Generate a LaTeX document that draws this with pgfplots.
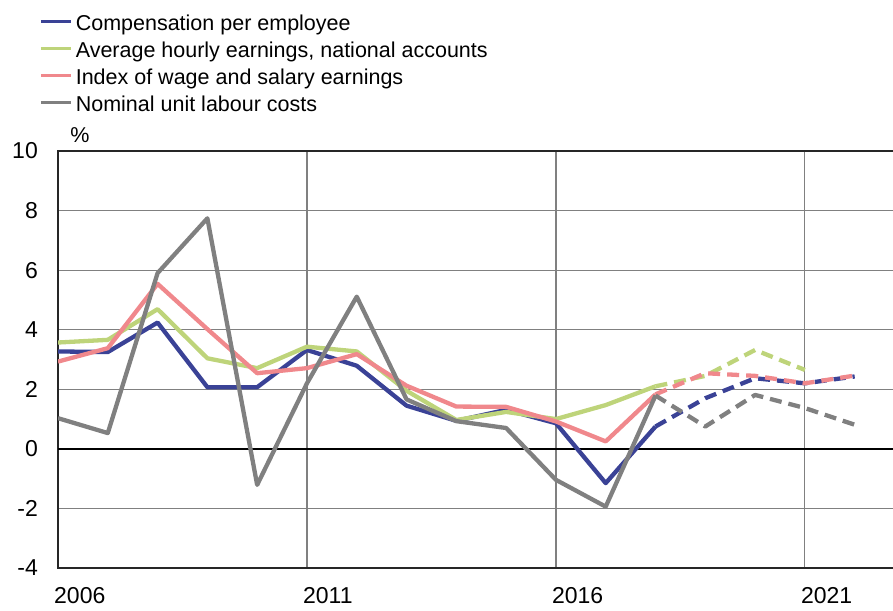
\documentclass[border=0pt]{standalone}
\usepackage{fontspec}
\setmainfont{Liberation Sans}
\usepackage{pgfplots}
\pgfplotsset{compat=1.18}
\definecolor{cblue}{RGB}{58,66,150}
\definecolor{cgreen}{RGB}{190,212,122}
\definecolor{cpink}{RGB}{240,136,140}
\definecolor{cgray}{RGB}{128,128,128}
\begin{document}
\begin{tikzpicture}[font=\fontsize{21.5}{25}\selectfont]
\useasboundingbox (0,0) rectangle (893pt,610pt);
\begin{axis}[
  at={(58pt,42pt)}, anchor=south west,
  width=837pt, height=417pt, scale only axis,
  xmin=2006, xmax=2022.81, ymin=-4, ymax=10,
  xtick={2006,2011,2016,2021},
  xticklabels={2006,2011,2016,2021},
  ytick={-4,-2,0,2,4,6,8,10},
  yticklabels={-4,-2,0,2,4,6,8,10},
  major tick length=0pt,
  grid=major,
  grid style={cgray, line width=1.2pt},
  axis line style={black!85, line width=1.4pt},
  extra y ticks={0}, extra y tick labels={},
  extra y tick style={grid style={black, line width=1.4pt}},
  tick label style={font=\fontsize{23}{26}\selectfont},
  xticklabel style={anchor=north west, inner sep=0pt, xshift=-4pt, yshift=-19pt},
  yticklabel style={anchor=east, inner sep=0pt, xshift=-20pt},
  legend style={at={(axis description cs:-0.0227,1.3261)}, anchor=north west,
    draw=none, fill=none, inner sep=0pt, outer sep=0pt,
    row sep=7pt, column sep=3pt,
    nodes={inner sep=0pt, text height=15.5pt, text depth=4.5pt, anchor=base west}},
  legend cell align=left,
  legend image code/.code={\draw[#1, line width=3.8pt] (0pt,9pt) -- (30pt,9pt);},
  every axis plot/.append style={line width=4.3pt, line join=round},
]
% Compensation per employee
\addplot[cblue] coordinates {(2006,3.27) (2007,3.25) (2008,4.24) (2009,2.07) (2010,2.07) (2011,3.32) (2012,2.79) (2013,1.45) (2014,0.94) (2015,1.31) (2016,0.86) (2017,-1.15) (2018,0.75)};
\addlegendentry{Compensation per employee}
% Average hourly earnings
\addplot[cgreen] coordinates {(2006,3.57) (2007,3.66) (2008,4.69) (2009,3.04) (2010,2.71) (2011,3.43) (2012,3.27) (2013,1.95) (2014,0.97) (2015,1.24) (2016,1.0) (2017,1.47) (2018,2.1)};
\addlegendentry{Average hourly earnings, national accounts}
% Index of wage and salary earnings
\addplot[cpink] coordinates {(2006,2.93) (2007,3.38) (2008,5.54) (2009,4.02) (2010,2.54) (2011,2.71) (2012,3.18) (2013,2.12) (2014,1.42) (2015,1.41) (2016,0.92) (2017,0.25) (2018,1.83)};
\addlegendentry{Index of wage and salary earnings}
% Nominal unit labour costs
\addplot[cgray] coordinates {(2006,1.03) (2007,0.53) (2008,5.9) (2009,7.74) (2010,-1.21) (2011,2.2) (2012,5.11) (2013,1.66) (2014,0.93) (2015,0.7) (2016,-1.04) (2017,-1.94) (2018,1.79)};
\addlegendentry{Nominal unit labour costs}
% forecasts (dashed)
\addplot[cblue, dash pattern=on 12pt off 7pt, forget plot] coordinates {(2018,0.75) (2019,1.7) (2020,2.37) (2021,2.2) (2022,2.43)};
\addplot[cgreen, dash pattern=on 12pt off 7pt, forget plot] coordinates {(2018,2.1) (2019,2.45) (2020,3.32) (2021,2.65)};
\addplot[cpink, dash pattern=on 12pt off 7pt, forget plot] coordinates {(2018,1.83) (2019,2.54) (2020,2.45) (2021,2.2) (2022,2.46)};
\addplot[cgray, dash pattern=on 12pt off 7pt, forget plot] coordinates {(2018,1.79) (2019,0.75) (2020,1.81) (2021,1.37) (2022,0.81)};
\end{axis}
\node at (80pt,475pt) {\%};
\end{tikzpicture}
\end{document}
